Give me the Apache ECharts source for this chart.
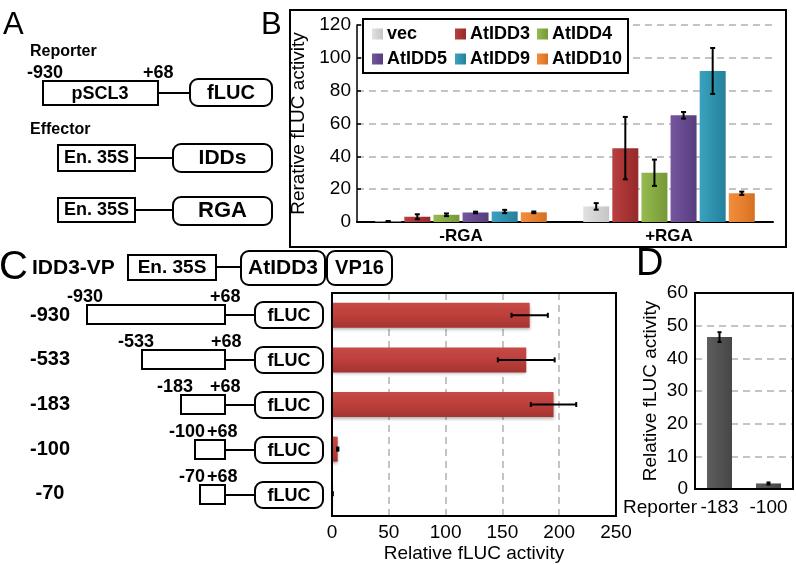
<!DOCTYPE html>
<html><head><meta charset="utf-8">
<script src="https://cdn.jsdelivr.net/npm/echarts@6/dist/echarts.min.js"></script>
<style>html,body{margin:0;padding:0;background:#fff}#c{width:796px;height:565px}</style>
</head><body><div id="c"></div>
<script>
const FONT = '"Liberation Sans", Arial, Helvetica, sans-serif';

// ---- Panel B data ----
const bCategories = ['-RGA', '+RGA'];
const bSeriesNames = ['vec', 'AtIDD3', 'AtIDD4', 'AtIDD5', 'AtIDD9', 'AtIDD10'];
const vecValues = [0.4, 9.5];
const vecErrors = [0.2, 2];
const atidd3Values = [3.2, 45];
const atidd3Errors = [1.5, 19];
const atidd4Values = [4.4, 30];
const atidd4Errors = [0.8, 8];
const atidd5Values = [5.8, 65];
const atidd5Errors = [0.5, 2];
const atidd9Values = [6.4, 92];
const atidd9Errors = [1, 14];
const atidd10Values = [5.9, 17.5];
const atidd10Errors = [0.5, 1];
const bTicks = [0, 20, 40, 60, 80, 100, 120];

// ---- Panel C data ----
const cCategories = ['-930', '-533', '-183', '-100', '-70'];
const cValues = [174, 171, 195, 5, 0.5];
const cErrors = [16, 25, 20, 0.6, 0.2];
const cTicks = [0, 50, 100, 150, 200, 250];

// ---- Panel D data ----
const dCategories = ['-183', '-100'];
const dValues = [46.5, 1.7];
const dErrors = [1.5, 0.3];
const dTicks = [0, 10, 20, 30, 40, 50, 60];

const bValues = [vecValues, atidd3Values, atidd4Values, atidd5Values, atidd9Values, atidd10Values];
const bErrors = [vecErrors, atidd3Errors, atidd4Errors, atidd5Errors, atidd9Errors, atidd10Errors];
const bColors = [
  ['#e2e2e2', '#d3d3d3', '#c6c6c6'],
  ['#b84040', '#a83333', '#962a2a'],
  ['#97b952', '#86aa42', '#769838'],
  ['#7556a0', '#66498f', '#573d7d'],
  ['#3aa2bf', '#2e92ad', '#25809a'],
  ['#f08e3c', '#e8802e', '#d47023']
];
function hGrad(c) {
  return { type: 'linear', x: 0, y: 0, x2: 1, y2: 0,
    colorStops: [{ offset: 0, color: c[0] }, { offset: 0.5, color: c[1] }, { offset: 1, color: c[2] }] };
}

const BAR_W = 26, BAR_GAP = 0.12, STEP = BAR_W * (1 + BAR_GAP);

function vErr(offset, cap) {
  return function (params, api) {
    const c = api.value(0), v = api.value(1), e = api.value(2);
    const hi = api.coord([c, v + e]), lo = api.coord([c, v - e]);
    const x = hi[0] + offset;
    const st = { stroke: '#000', lineWidth: 2 };
    return { type: 'group', children: [
      { type: 'line', shape: { x1: x, y1: hi[1], x2: x, y2: lo[1] }, style: st },
      { type: 'line', shape: { x1: x - cap, y1: hi[1], x2: x + cap, y2: hi[1] }, style: st },
      { type: 'line', shape: { x1: x - cap, y1: lo[1], x2: x + cap, y2: lo[1] }, style: st }
    ] };
  };
}
function hErr(cap) {
  return function (params, api) {
    const v = api.value(0), c = api.value(1), e = api.value(2);
    const hi = api.coord([v + e, c]), lo = api.coord([v - e, c]);
    const y = hi[1];
    const st = { stroke: '#000', lineWidth: 2 };
    return { type: 'group', children: [
      { type: 'line', shape: { x1: lo[0], y1: y, x2: hi[0], y2: y }, style: st },
      { type: 'line', shape: { x1: lo[0], y1: y - cap, x2: lo[0], y2: y + cap }, style: st },
      { type: 'line', shape: { x1: hi[0], y1: y - cap, x2: hi[0], y2: y + cap }, style: st }
    ] };
  };
}

// ---- graphics (schematics, panel letters, frames) ----
const gfx = [];
function T(text, x, y, size, weight, align) {
  gfx.push({ type: 'text', x: x, y: y, z: 20, style: { text: text, fontSize: size, fontWeight: weight || 'bold',
    fontFamily: FONT, fill: '#000', align: align || 'center', verticalAlign: 'middle' } });
}
function R(x, y, w, h, r, fill, z) {
  gfx.push({ type: 'rect', z: z || 15, shape: { x: x, y: y, width: w, height: h, r: r || 0 },
    style: { fill: fill === undefined ? '#fff' : fill, stroke: '#000', lineWidth: 2 } });
}
function L(x1, y1, x2, y2) {
  gfx.push({ type: 'line', z: 15, shape: { x1: x1, y1: y1, x2: x2, y2: y2 }, style: { stroke: '#000', lineWidth: 2 } });
}

// Panel letters
T('A', 3, 25, 31, 'normal', 'left');
T('B', 261, 25, 31, 'normal', 'left');
T('C', -1, 268, 40, 'normal', 'left');
T('D', 636, 265, 38, 'normal', 'left');

// Panel A
T('Reporter', 30, 52, 16, 'bold', 'left');
T('-930', 27, 73, 18, 'bold', 'left');
T('+68', 143, 73, 18, 'bold', 'left');
R(43, 81, 115, 24, 0);
T('pSCL3', 100, 94, 18);
L(158, 93, 190, 93);
R(190, 79, 82, 27, 8);
T('fLUC', 231, 93, 20);
T('Effector', 30, 130, 16, 'bold', 'left');
R(58, 145, 77, 26, 0);
T('En. 35S', 96.5, 158, 18);
L(135, 158, 173, 158);
R(173, 144, 99, 28, 8);
T('IDDs', 222.5, 158.5, 21);
R(58, 198, 77, 24, 0);
T('En. 35S', 96.5, 210, 18);
L(135, 210, 173, 210);
R(173, 197, 99, 28, 8);
T('RGA', 222.5, 211, 22);

// Panel B frame + legend frame
R(290, 10, 496, 237, 0, 'transparent', 1);
R(363, 19, 265, 54, 0, '#fff', 3);

// Panel C / D plot frames
R(332, 293, 284, 223, 0, 'transparent', 12);
R(695, 293, 98, 196, 0, 'transparent', 12);

// Panel C header
T('IDD3-VP', 32, 268, 21, 'bold', 'left');
R(128, 255, 88, 25, 0);
T('En. 35S', 172, 267.5, 19);
L(216, 267, 241, 267);
R(241, 251, 84, 34, 8);
T('AtIDD3', 283, 268.5, 21);
R(327, 251, 65, 34, 8);
T('VP16', 359.5, 268.5, 20);

// Panel C constructs
const rowY = [315, 360, 405, 450, 495];
const boxL = [87, 142, 181, 195, 200];
const lblX = [67, 118, 157, 169, 179];
const plusX = [210, 211, 210, 207, 207];
for (let i = 0; i < 5; i++) {
  const cy = rowY[i];
  R(boxL[i], cy - 10, 225 - boxL[i], 19, 0);
  T(cCategories[i], lblX[i], cy - 18, 18, 'bold', 'left');
  T('+68', plusX[i], cy - 18, 18, 'bold', 'left');
  L(225, cy, 255, cy);
  R(255, cy - 13, 68, 26, 8);
  T('fLUC', 289, cy + 1, 18);
}

// Panel D "Reporter"
T('Reporter', 697, 508, 19, 'normal', 'right');

// ---- legends ----
const legPos = [[372, 25], [455, 25], [537, 25], [372, 50], [455, 50], [537, 50]];
const legends = bSeriesNames.map((n, k) => ({
  data: [n], left: legPos[k][0], top: legPos[k][1], padding: 0, z: 20,
  itemWidth: 11, itemHeight: 11, icon: 'rect', selectedMode: false,
  textStyle: { fontFamily: FONT, fontSize: 18, fontWeight: 'bold', color: '#000', padding: [0, 0, 0, -1] }
}));

const axisLbl = { fontFamily: FONT, fontSize: 19, color: '#000' };
const dashed = { show: true, showMaxLine: false, showMinLine: false, lineStyle: { color: '#c4c4c4', width: 2, type: [7, 5] } };
const dashedB = { show: true, showMinLine: false, lineStyle: { color: '#c4c4c4', width: 2, type: [7, 5] } };
const blackLine = { show: true, lineStyle: { color: '#000', width: 2 } };

const series = [];
bSeriesNames.forEach((n, k) => {
  series.push({ name: n, type: 'bar', xAxisIndex: 0, yAxisIndex: 0, barWidth: BAR_W, barGap: (BAR_GAP * 100) + '%',
    data: bValues[k], itemStyle: { color: hGrad(bColors[k]) }, z: 2 });
});
bSeriesNames.forEach((n, k) => {
  series.push({ type: 'custom', xAxisIndex: 0, yAxisIndex: 0, z: 5, silent: true,
    encode: { x: 0, y: 1 },
    data: bCategories.map((c, i) => [i, bValues[k][i], bErrors[k][i]]),
    renderItem: vErr((k - 2.5) * STEP, 2.5) });
});
series.push({ type: 'bar', xAxisIndex: 1, yAxisIndex: 1, barWidth: 25, data: cValues,
  itemStyle: { color: { type: 'linear', x: 0, y: 0, x2: 0, y2: 1,
    colorStops: [{ offset: 0, color: '#c64a45' }, { offset: 0.45, color: '#bf403c' }, { offset: 1, color: '#a53330' }] },
    shadowBlur: 3, shadowColor: 'rgba(0,0,0,0.3)', shadowOffsetY: 2 } });
series.push({ type: 'custom', xAxisIndex: 1, yAxisIndex: 1, z: 5, silent: true, encode: { x: 0, y: 1 },
  data: cCategories.map((c, i) => [cValues[i], i, cErrors[i]]), renderItem: hErr(2.5) });
series.push({ type: 'bar', xAxisIndex: 2, yAxisIndex: 2, barWidth: 25, data: dValues,
  itemStyle: { color: { type: 'linear', x: 0, y: 0, x2: 1, y2: 0,
    colorStops: [{ offset: 0, color: '#5e5e5e' }, { offset: 0.5, color: '#525252' }, { offset: 1, color: '#464646' }] } } });
series.push({ type: 'custom', xAxisIndex: 2, yAxisIndex: 2, z: 5, silent: true, encode: { x: 0, y: 1 },
  data: dCategories.map((c, i) => [i, dValues[i], dErrors[i]]), renderItem: vErr(0, 2) });

const option = {
  backgroundColor: '#fff',
  animation: false,
  textStyle: { fontFamily: FONT },
  legend: legends,
  grid: [
    { left: 357, top: 25, width: 416, height: 197, containLabel: false, outerBoundsMode: 'none' },
    { left: 332, top: 293, width: 284, height: 223, containLabel: false, outerBoundsMode: 'none' },
    { left: 695, top: 293, width: 98, height: 196, containLabel: false, outerBoundsMode: 'none' }
  ],
  xAxis: [
    { type: 'category', gridIndex: 0, data: bCategories, axisLine: blackLine, axisTick: { show: false },
      axisLabel: { fontFamily: FONT, fontSize: 17, fontWeight: 'bold', color: '#000', margin: 6, interval: 0 } },
    { type: 'value', gridIndex: 1, min: cTicks[0], max: cTicks[cTicks.length - 1], interval: 50, axisLine: blackLine, axisTick: { show: false },
      axisLabel: Object.assign({ margin: 7 }, axisLbl), splitLine: dashed,
      name: 'Relative fLUC activity', nameLocation: 'middle', nameGap: 28, nameTextStyle: axisLbl },
    { type: 'category', gridIndex: 2, data: dCategories, axisLine: blackLine, axisTick: { show: false },
      axisLabel: Object.assign({ margin: 9, interval: 0, hideOverlap: false }, axisLbl) }
  ],
  yAxis: [
    { type: 'value', gridIndex: 0, min: bTicks[0], max: bTicks[bTicks.length - 1], interval: 20,
      axisLine: { show: true, lineStyle: { color: '#000', width: 1.5 } },
      axisTick: { show: true, inside: true, length: 4, lineStyle: { color: '#000', width: 1.5 } },
      axisLabel: Object.assign({ margin: 6 }, axisLbl), splitLine: dashedB,
      name: 'Rerative fLUC activity', nameLocation: 'middle', nameGap: 30, nameTextStyle: axisLbl },
    { type: 'category', gridIndex: 1, data: cCategories, inverse: true, axisLine: blackLine, axisTick: { show: false },
      axisLabel: { fontFamily: FONT, fontSize: 20, fontWeight: 'bold', color: '#000', margin: 282, align: 'center', interval: 0, padding: [4, 0, 0, 0] } },
    { type: 'value', gridIndex: 2, min: dTicks[0], max: dTicks[dTicks.length - 1], interval: 10, axisLine: blackLine, axisTick: { show: false },
      axisLabel: Object.assign({ margin: 7 }, axisLbl), splitLine: dashed,
      name: 'Relative fLUC activity', nameLocation: 'middle', nameGap: 35, nameTextStyle: axisLbl }
  ],
  graphic: { elements: gfx },
  series: series
};
const chart = echarts.init(document.getElementById('c'), null, { renderer: 'canvas' });
chart.setOption(option);
</script>
</body></html>
